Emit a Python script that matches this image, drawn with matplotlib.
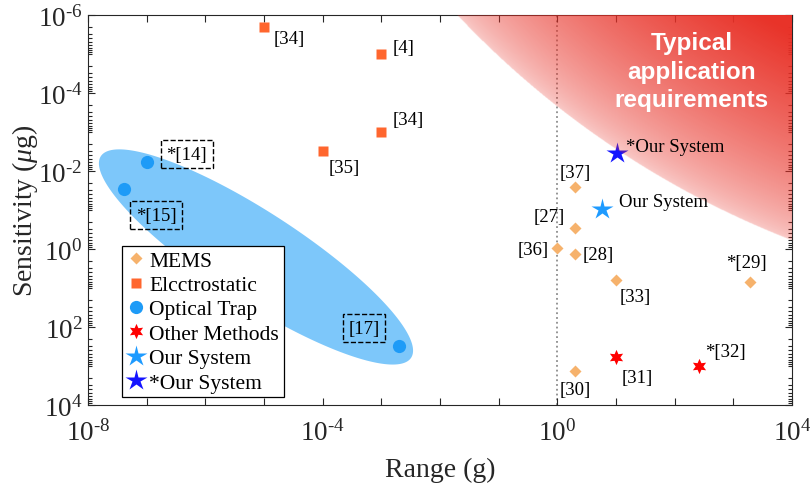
import numpy as np
import matplotlib
matplotlib.use("Agg")
import matplotlib.pyplot as plt
from matplotlib.ticker import FixedLocator, FixedFormatter, LogLocator, NullFormatter

# ---- Data (range in g, sensitivity in ug) ----

mems_range = [2, 2, 1, 2, 10, 1900, 2]
mems_sens  = [0.026, 0.29, 0.93, 1.35, 6.2, 7.1, 1350]
mems_refs  = ["[37]", "[27]", "[36]", "[28]", "[33]", "*[29]", "[30]"]

estat_range = [1e-5, 1e-3, 1e-3, 1e-4]
estat_sens  = [2.0e-6, 1e-5, 1e-3, 3.1e-3]
estat_refs  = ["[34]", "[4]", "[34]", "[35]"]

optical_range = [1e-7, 4.1e-8, 2.0e-3]
optical_sens  = [5.9e-3, 0.029, 310]
optical_refs  = ["*[14]", "*[15]", "[17]"]

other_range = [10, 257]
other_sens  = [590, 1000]
other_refs  = ["[31]", "*[32]"]

ours_range = [5.8]
ours_sens  = [0.093]
ours_star_range = [10.5]
ours_star_sens  = [3.5e-3]

x_exponents = list(range(-8, 5))
y_exponents = list(range(-6, 5, 2))

# label placement: (dx px, dy px down, ha)
mems_offsets    = [(0, -15, "center"), (-10, -12, "right"), (-9, 2, "right"), (8, 0, "left"),
                   (4, 17, "left"), (-3, -20, "center"), (0, 18, "center")]
estat_offsets   = [(10, 12, "left"), (11, -6, "left"), (11, -12, "left"), (6, 16, "left")]
optical_offsets = [(40, -8, "center"), (32, 26, "center"), (-35, -18, "center")]
other_offsets   = [(6, 20, "left"), (6, -14, "left")]

# shaded optical-trap ellipse (centre in data units, axes in pixels)
ELL_CENTER = (7.3e-6, 1.6)
ELL_A, ELL_B, ELL_ANGLE = 185, 45, 33

# "typical application" disk (centre in data units, radius in pixels)
REQ_CENTER = (4.4e9, 8e-23)
REQ_RADIUS = 915
REQ_FADE = 190

# ---- Plot ----

plt.rcParams["font.family"] = ["Liberation Serif", "DejaVu Serif"]
plt.rcParams["mathtext.fontset"] = "custom"
plt.rcParams["mathtext.rm"] = "Liberation Serif"
plt.rcParams["mathtext.it"] = "Liberation Serif:italic"

DARK = "#262626"


def pow_label(k):
    # hyphen rather than the wide math minus, as in the original figure
    if k < 0:
        return r"$10^{\text{-}%d}$" % (-k)
    return r"$10^{%d}$" % k


fig = plt.figure(figsize=(8.1, 4.85), dpi=100)
ax = fig.add_axes([88 / 810, 79 / 485, 704 / 810, 390 / 485])
ax.set_xscale("log")
ax.set_yscale("log")
ax.set_xlim(1e-8, 1e4)
ax.set_ylim(1e4, 1e-6)
ax.set_autoscale_on(False)

# optical trap ellipse
t = np.linspace(0, 2 * np.pi, 300)
th = np.deg2rad(-ELL_ANGLE)
c = ax.transData.transform(ELL_CENTER)
ex = c[0] + ELL_A * np.cos(t) * np.cos(th) - ELL_B * np.sin(t) * np.sin(th)
ey = c[1] + ELL_A * np.cos(t) * np.sin(th) + ELL_B * np.sin(t) * np.cos(th)
pts = ax.transData.inverted().transform(np.column_stack([ex, ey]))
ax.fill(pts[:, 0], pts[:, 1], color="#7DC7FA", lw=0, zorder=1)

ax.axvline(1, color="#8c8c8c", ls=":", lw=1.3, zorder=1)

ax.plot(mems_range, mems_sens, "D", ms=6.3, color="#F6B26C", mec="none", ls="none", zorder=4, label="MEMS")
ax.plot(estat_range, estat_sens, "s", ms=7, color="#FF662E", mec="none", ls="none", zorder=4, label="Elcctrostatic")
ax.plot(optical_range, optical_sens, "o", ms=9.5, color="#1E9BF7", mec="none", ls="none", zorder=4, label="Optical Trap")
ax.plot(other_range, other_sens, marker=(6, 1, 0), ms=11, color="#FF0000", mec="none", ls="none", zorder=4, label="Other Methods")
ax.plot(ours_range, ours_sens, "*", ms=16, color="#1E9BFF", mec="none", ls="none", zorder=4, label="Our System")
ax.plot(ours_star_range, ours_star_sens, "*", ms=16, color="#1414FF", mec="none", ls="none", zorder=2, label="*Our System")

# red gradient region
bb = ax.bbox
W, H = int(bb.width) * 2, int(bb.height) * 2
gx = bb.x0 + (np.arange(W) + 0.5) / W * bb.width
gy = bb.y0 + (np.arange(H) + 0.5) / H * bb.height
GX, GY = np.meshgrid(gx, gy)
rc = ax.transData.transform(REQ_CENTER)
d = np.hypot(GX - rc[0], GY - rc[1])
fade = np.clip((REQ_RADIUS - d) / REQ_FADE, 0, 1)
rgba = np.zeros((H, W, 4))
rgba[..., 0] = 0.91
rgba[..., 1] = 0.19
rgba[..., 2] = 0.15
rgba[..., 3] = np.where(d < REQ_RADIUS, 0.25 + 0.74 * fade ** 0.7, 0)
ax.imshow(rgba, extent=(0, 1, 0, 1), transform=ax.transAxes, origin="lower",
          aspect="auto", interpolation="bilinear", zorder=3)
ax.text(0.857, 0.856, "Typical\napplication\nrequirements", transform=ax.transAxes,
        ha="center", va="center", color="white", fontsize=17.5, fontweight="bold",
        family="Liberation Sans", linespacing=1.3, zorder=6)

# point labels
def put_labels(xs, ys, refs, offsets, boxed=False):
    for x, y, r, (dx, dy, ha) in zip(xs, ys, refs, offsets):
        kw = {}
        if boxed:
            kw["bbox"] = dict(boxstyle="square,pad=0.3", fc="none", ec="black", ls="--", lw=1.0)
        ax.annotate(r, (x, y), xytext=(dx * 0.72, -dy * 0.72), textcoords="offset points",
                    ha=ha, va="center", fontsize=13.5, color="black", zorder=5, **kw)

put_labels(mems_range, mems_sens, mems_refs, mems_offsets)
put_labels(estat_range, estat_sens, estat_refs, estat_offsets)
put_labels(optical_range, optical_sens, optical_refs, optical_offsets, boxed=True)
put_labels(other_range, other_sens, other_refs, other_offsets)
put_labels(ours_range, ours_sens, ["Our System"], [(17, -7, "left")])
put_labels(ours_star_range, ours_star_sens, ["*Our System"], [(9, -7, "left")])

# axes styling
ax.xaxis.set_major_locator(FixedLocator([10.0 ** k for k in x_exponents]))
ax.xaxis.set_major_formatter(FixedFormatter(
    [pow_label(k) if k % 4 == 0 else "" for k in x_exponents]))
ax.xaxis.set_minor_locator(FixedLocator([]))
ax.yaxis.set_major_locator(FixedLocator([10.0 ** k for k in y_exponents]))
ax.yaxis.set_major_formatter(FixedFormatter([pow_label(k) for k in y_exponents]))
ax.yaxis.set_minor_locator(LogLocator(base=10, subs=np.arange(1, 10), numticks=100))
ax.yaxis.set_minor_formatter(NullFormatter())

ax.tick_params(which="both", direction="in", top=True, right=True, colors=DARK, width=0.8)
ax.tick_params(which="major", length=5, labelsize=19.5)
ax.tick_params(which="minor", length=3)
ax.tick_params(axis="x", pad=10)
ax.tick_params(axis="y", pad=4)
for s in ax.spines.values():
    s.set_color(DARK)
    s.set_linewidth(0.8)

ax.set_xlabel("Range (g)", fontsize=20, color=DARK, labelpad=8)
ax.set_ylabel(r"Sensitivity ($\mu$g)", fontsize=20, color=DARK, labelpad=-2)

leg = ax.legend(loc="upper left", bbox_to_anchor=(0.048, 0.408), borderaxespad=0,
                fontsize=15.5, frameon=True, fancybox=False, framealpha=1,
                edgecolor="black", handlelength=0.9, handletextpad=0.15,
                labelspacing=0.2, borderpad=0.22, numpoints=1)
leg.get_frame().set_linewidth(0.9)
leg.set_zorder(7)

fig.savefig("out.png", dpi=100)
